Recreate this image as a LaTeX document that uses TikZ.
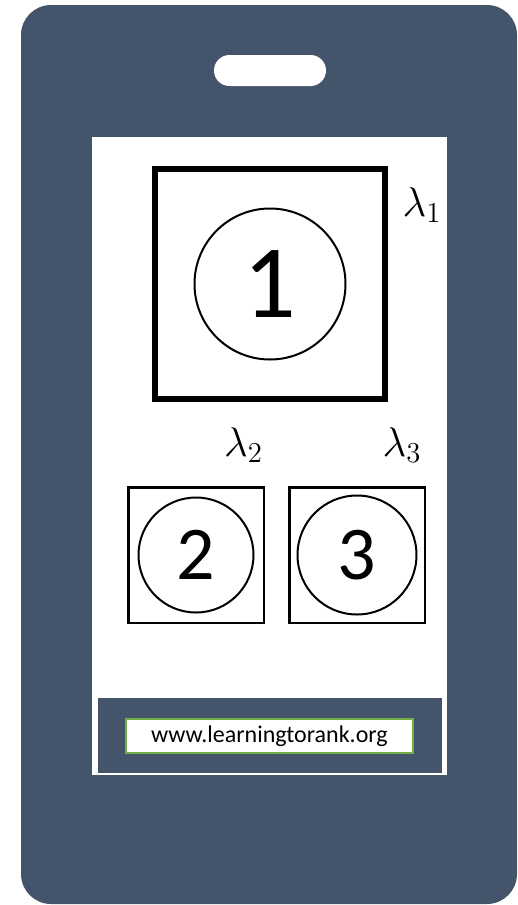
\documentclass[tikz,border=0pt]{standalone}
\usepackage{fontspec}
\setmainfont{Carlito}
\usetikzlibrary{positioning}
\definecolor{phoneslate}{HTML}{44546A}
\definecolor{urlgreen}{HTML}{70AD47}

\begin{document}
\begin{tikzpicture}[
    x=0.5pt, y=-0.5pt,
    docbox/.style={rectangle, draw, line width=1.25pt, inner sep=0pt,
                   minimum width=67.75pt, minimum height=67.75pt},
    topbox/.style={docbox, line width=3pt, minimum width=115pt, minimum height=115pt},
    rankcirc/.style={circle, draw, line width=1pt, inner sep=0pt},
    weight/.style={inner sep=0pt, font=\fontsize{20.5}{24}\selectfont},
    urlbox/.style={rectangle, draw=urlgreen, line width=1pt, fill=white,
                   minimum width=143.5pt, minimum height=17pt, inner sep=0pt,
                   font=\fontsize{12}{14}\selectfont}
]
  \useasboundingbox (0,0) rectangle (518,905);

  % phone
  \fill[phoneslate, rounded corners=15pt] (21,5) rectangle (517,904);
  \fill[white, rounded corners=7.75pt] (214,55) rectangle (326,86);
  \fill[white] (92,137) rectangle (447,775);
  \fill[phoneslate] (98,698) rectangle (442,773);

  \node[topbox] (d1) at (270,284) {};
  \node[rankcirc, minimum size=75.5pt, font=\fontsize{52}{60}\selectfont] (r1) at (d1.center) {1};
  \node[weight] (w1) at (422,205) {$\lambda_1$};

  \node[docbox] (d2) at (196,555) {};
  \node[docbox, right=11.5pt of d2] (d3) {};
  \node[rankcirc, minimum size=57.5pt, font=\fontsize{38}{44}\selectfont] (r2) at (d2.center) {2};
  \node[rankcirc, minimum size=59.5pt, font=\fontsize{38}{44}\selectfont] (r3) at (d3.center) {3};
  \node[weight] (w2) at (243.5,445) {$\lambda_2$};
  \node[weight] (w3) at (402,445) {$\lambda_3$};

  \node[urlbox] (url) at (269.5,736) {www.learningtorank.org\hspace{5pt}};
\end{tikzpicture}
\end{document}
